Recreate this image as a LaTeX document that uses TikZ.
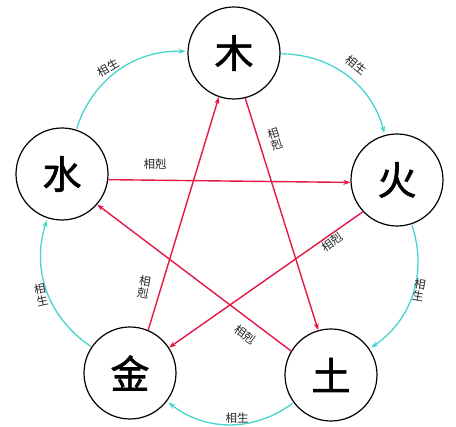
\documentclass[tikz,border=0pt]{standalone}
\usepackage{fontspec}
\newfontfamily\cjk{Noto Sans CJK SC}
\newfontfamily\cjkbig[FakeBold=1.5]{Noto Sans CJK SC}
\usetikzlibrary{arrows.meta}
\definecolor{shengc}{RGB}{70,212,205}
\definecolor{kec}{RGB}{228,24,66}
\tikzset{
  elem/.style={circle,draw=black,line width=1.2pt,minimum size=92pt,inner sep=0pt,font=\cjkbig\fontsize{39}{41}\selectfont},
  sheng/.style={draw=shengc,line width=1.3pt,-{Stealth[length=7pt,width=5pt]},shorten >=2pt,shorten <=1pt},
  ke/.style={draw=kec,line width=1.4pt,-{Stealth[length=7pt,width=5pt]}},
  lab/.style={font=\cjk\fontsize{11.5}{12}\selectfont,inner sep=1pt,text=black!85},
  vlab/.style={lab,align=center,font=\cjk\fontsize{11.5}{12}\selectfont}
}
\begin{document}
\begin{tikzpicture}[x=1pt,y=1pt]
\useasboundingbox (0,0) rectangle (456,427);
\fill[white] (0,0) rectangle (456,427);
% elements
\node[elem] (mu)   at (234,374) {木};
\node[elem] (huo)  at (397,247) {火};
\node[elem] (tu)   at (331,52)  {土};
\node[elem] (jin)  at (130,54)  {金};
\node[elem] (shui) at (62,253)  {水};
% generating cycle
\draw[sheng] (mu) to[bend left=37] (huo);
\draw[sheng] (huo) to[bend left=37] (tu);
\draw[sheng] (tu) to[bend left=37] (jin);
\draw[sheng] (jin) to[bend left=37] (shui);
\draw[sheng] (shui) to[bend left=37] (mu);
% overcoming star
\draw[ke] (shui.-7) -- (huo.183);
\draw[ke] (mu.-76) -- (tu.106);
\draw[ke] (huo.223) -- (jin.33);
\draw[ke] (tu.149) -- (shui.-41);
\draw[ke] (jin.67) -- (mu.-109);
% labels
\node[lab,rotate=30]  (s1) at (108,359) {相生};
\node[lab,rotate=-38] (s2) at (356,362) {相生};
\node[vlab,rotate=-10] (s3) at (419,137) {相\\生};
\node[lab]            (s4) at (237,9)   {相生};
\node[vlab,rotate=12] (s5) at (41,132)  {相\\生};
\node[lab]            (k1) at (155,263) {相剋};
\node[vlab,rotate=18] (k2) at (275,288) {相\\剋};
\node[lab,rotate=35]  (k3) at (332,185) {相剋};
\node[lab,rotate=-35] (k4) at (245,92)  {相剋};
\node[vlab,rotate=-10] (k5) at (144,140) {相\\剋};
\end{tikzpicture}
\end{document}
